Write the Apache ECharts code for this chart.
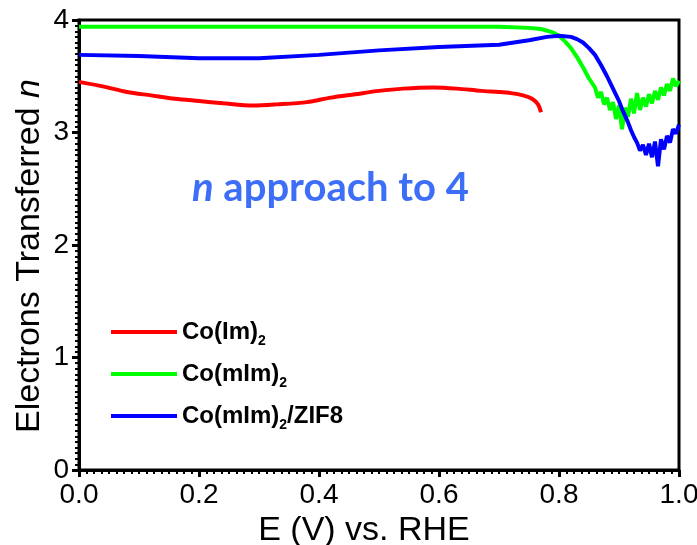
<!DOCTYPE html>
<html>
<head>
<meta charset="utf-8">
<script src="https://cdn.jsdelivr.net/npm/echarts@6/dist/echarts.min.js"></script>
<style>
  html, body { margin: 0; padding: 0; background: #fff; }
  #chart { width: 697px; height: 545px; }
</style>
</head>
<body>
<div id="chart"></div>
<script>
// Co(Im)2 - red
var redE = [0, 0.04, 0.08, 0.12, 0.16, 0.2, 0.24, 0.29, 0.33, 0.38, 0.42, 0.46, 0.5, 0.54, 0.59, 0.63, 0.67, 0.7, 0.72, 0.74, 0.755, 0.765, 0.77];
var redN = [3.45, 3.41, 3.36, 3.33, 3.30, 3.28, 3.26, 3.24, 3.25, 3.27, 3.31, 3.34, 3.37, 3.39, 3.40, 3.39, 3.37, 3.36, 3.35, 3.33, 3.30, 3.25, 3.18];

// Co(mIm)2 - green
var greenE = [0, 0.1, 0.2, 0.3, 0.4, 0.5, 0.6, 0.7, 0.75, 0.77, 0.79, 0.8, 0.81, 0.82, 0.83, 0.84, 0.85,
  0.86, 0.865, 0.87, 0.875, 0.88, 0.885, 0.89, 0.895, 0.9, 0.905, 0.91, 0.915, 0.92, 0.925, 0.93, 0.935,
  0.94, 0.945, 0.95, 0.955, 0.96, 0.965, 0.97, 0.975, 0.98, 0.985, 0.99, 0.995, 1.0];
var greenN = [3.94, 3.94, 3.94, 3.94, 3.94, 3.94, 3.94, 3.94, 3.93, 3.92, 3.89, 3.86, 3.81, 3.75, 3.67, 3.58, 3.48,
  3.40, 3.31, 3.36, 3.25, 3.31, 3.20, 3.27, 3.12, 3.24, 3.03, 3.22, 3.14, 3.30, 3.17, 3.35, 3.20,
  3.31, 3.23, 3.34, 3.26, 3.37, 3.29, 3.40, 3.33, 3.43, 3.37, 3.48, 3.41, 3.46];

// Co(mIm)2/ZIF8 - blue
var blueE = [0, 0.1, 0.2, 0.3, 0.4, 0.5, 0.6, 0.7, 0.75, 0.78, 0.8, 0.82, 0.83, 0.84, 0.85, 0.86, 0.87, 0.88, 0.89,
  0.9, 0.905, 0.91, 0.915, 0.92, 0.925, 0.93, 0.935, 0.94, 0.945, 0.95, 0.955, 0.96, 0.965, 0.97, 0.975,
  0.98, 0.985, 0.99, 0.995, 1.0];
var blueN = [3.69, 3.68, 3.66, 3.66, 3.69, 3.73, 3.76, 3.78, 3.82, 3.85, 3.86, 3.85, 3.83, 3.80, 3.75, 3.69, 3.60, 3.50, 3.39,
  3.28, 3.21, 3.15, 3.09, 3.02, 2.96, 2.91, 2.84, 2.89, 2.80, 2.90, 2.78, 2.92, 2.70, 2.94, 2.85,
  2.97, 2.91, 3.03, 2.99, 3.07];

var xTicks = [0, 0.2, 0.4, 0.6, 0.8, 1.0];
var yTicks = [0, 1, 2, 3, 4];

function pairs(xs, ys) {
  var out = [];
  for (var i = 0; i < xs.length; i++) out.push([xs[i], ys[i]]);
  return out;
}

var sans = "'Liberation Sans', Arial, sans-serif";
var legendNames = {
  'Co(Im)2': '{b|Co(Im)}{s|2}',
  'Co(mIm)2': '{b|Co(mIm)}{s|2}',
  'Co(mIm)2/ZIF8': '{b|Co(mIm)}{s|2}{b|/ZIF8}'
};

var myChart = echarts.init(document.getElementById('chart'));

option = {
  animation: false,
  grid: {
    left: 79, right: 18, top: 20, bottom: 75,
    outerBoundsMode: 'none',
    show: true, borderColor: '#000', borderWidth: 3
  },
  legend: {
    orient: 'vertical',
    left: 106, top: 315,
    itemWidth: 66, itemHeight: 4, itemGap: 14,
    icon: 'rect',
    formatter: function (name) { return legendNames[name]; },
    textStyle: {
      rich: {
        b: { fontFamily: sans, fontWeight: 'bold', fontSize: 24, color: '#000' },
        s: { fontFamily: sans, fontWeight: 'bold', fontSize: 14, color: '#000', padding: [18, 0, 0, 0] }
      }
    }
  },
  graphic: [{
    type: 'text',
    left: 192, top: 168,
    style: {
      text: '{i|n} approach to 4',
      fill: '#3d6ef7',
      font: "bold 40px Lato, 'Open Sans', sans-serif",
      rich: {
        i: { fontStyle: 'italic', fontWeight: 'bold', fontSize: 40, fontFamily: "Lato, 'Open Sans', sans-serif", fill: '#3d6ef7' }
      }
    }
  }, {
    type: 'text',
    x: 30, y: 256,
    rotation: Math.PI / 2,
    style: {
      text: '{a|Electrons Transferred }{i|n}',
      align: 'center',
      verticalAlign: 'middle',
      fill: '#000',
      font: "34px 'Liberation Sans', Arial, sans-serif",
      rich: {
        a: { fontFamily: sans, fontSize: 34, fill: '#000' },
        i: { fontFamily: sans, fontSize: 34, fill: '#000', fontStyle: 'italic' }
      }
    }
  }],
  xAxis: {
    type: 'value',
    min: 0, max: 1, interval: 0.2,
    name: 'E (V) vs. RHE',
    nameLocation: 'middle',
    nameGap: 31,
    nameTextStyle: { fontFamily: sans, fontSize: 34, color: '#000', padding: [0, 30, 0, 0] },
    axisLine: { lineStyle: { color: '#000', width: 3 } },
    axisTick: { length: 7, lineStyle: { color: '#000', width: 3 } },
    minorTick: { show: true, splitNumber: 16, length: 4, lineStyle: { color: '#000', width: 2 } },
    splitLine: { show: false },
    axisLabel: {
      margin: 11,
      fontFamily: sans, fontSize: 28, color: '#000',
      formatter: function (v) { return v.toFixed(1); }
    }
  },
  yAxis: {
    type: 'value',
    min: 0, max: 4, interval: 1,
    axisLine: { lineStyle: { color: '#000', width: 3 } },
    axisTick: { length: 7, lineStyle: { color: '#000', width: 3 } },
    minorTick: { show: true, splitNumber: 20, length: 4, lineStyle: { color: '#000', width: 2 } },
    splitLine: { show: false },
    axisLabel: { margin: 10, fontFamily: sans, fontSize: 28, color: '#000' }
  },
  series: [
    { name: 'Co(Im)2', type: 'line', data: pairs(redE, redN), showSymbol: false, smooth: 0.3,
      lineStyle: { color: '#ff0000', width: 4 }, itemStyle: { color: '#ff0000' } },
    { name: 'Co(mIm)2', type: 'line', data: pairs(greenE, greenN), showSymbol: false,
      lineStyle: { color: '#00ff00', width: 4 }, itemStyle: { color: '#00ff00' } },
    { name: 'Co(mIm)2/ZIF8', type: 'line', data: pairs(blueE, blueN), showSymbol: false,
      lineStyle: { color: '#0000ff', width: 4 }, itemStyle: { color: '#0000ff' } }
  ]
};

myChart.setOption(option);
</script>
</body>
</html>
